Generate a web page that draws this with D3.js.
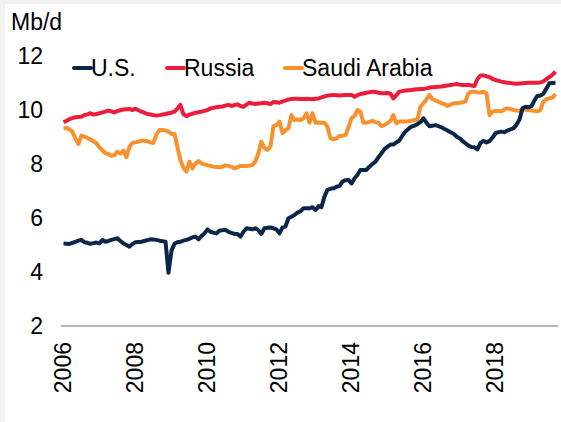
<!DOCTYPE html>
<html>
<head>
<meta charset="utf-8">
<script src="https://cdnjs.cloudflare.com/ajax/libs/d3/7.8.5/d3.min.js"></script>
<style>
  html, body { margin: 0; padding: 0; background: #f2f2f2; }
  svg { display: block; font-family: Arial, "Liberation Sans", sans-serif; }
</style>
</head>
<body>
<div id="chart"></div>
<script>
// monthly crude output, Mb/d, first month = Jan 2006
var startMonth = new Date(2006, 0, 1);

var usValues = [
  5.06, 5.05, 5.04, 5.08, 5.12, 5.16, 5.19, 5.10, 5.08, 5.04, 5.07, 5.09, 5.06, 5.19, 5.12, 5.15,
  5.19, 5.22, 5.25, 5.15, 5.06, 5.00, 4.94, 5.04, 5.10, 5.11, 5.12, 5.15, 5.18, 5.21, 5.20, 5.19,
  5.16, 5.14, 5.12, 3.97, 4.80, 5.05, 5.10, 5.12, 5.16, 5.19, 5.23, 5.28, 5.31, 5.21, 5.33, 5.43,
  5.58, 5.49, 5.46, 5.43, 5.53, 5.55, 5.56, 5.49, 5.45, 5.41, 5.41, 5.31, 5.49, 5.62, 5.60, 5.58,
  5.62, 5.55, 5.41, 5.62, 5.64, 5.65, 5.62, 5.58, 5.43, 5.65, 5.68, 5.99, 6.05, 6.11, 6.20, 6.25,
  6.36, 6.36, 6.36, 6.40, 6.30, 6.44, 6.40, 6.79, 7.04, 7.08, 7.10, 7.15, 7.19, 7.35, 7.40, 7.41,
  7.28, 7.47, 7.59, 7.78, 7.78, 7.78, 7.90, 8.00, 8.09, 8.25, 8.40, 8.55, 8.64, 8.72, 8.72, 8.80,
  8.87, 9.05, 9.20, 9.30, 9.38, 9.42, 9.48, 9.55, 9.69, 9.52, 9.40, 9.42, 9.44, 9.40, 9.36, 9.30,
  9.24, 9.18, 9.12, 9.02, 8.95, 8.85, 8.77, 8.68, 8.63, 8.62, 8.54, 8.78, 8.86, 8.80, 8.85, 8.98,
  9.14, 9.18, 9.20, 9.18, 9.24, 9.28, 9.32, 9.45, 9.65, 10.06, 10.12, 10.10, 10.14, 10.37, 10.52, 10.54,
  10.60, 10.80, 10.99, 11.00, 11.01
];

var russiaValues = [
  9.55, 9.60, 9.66, 9.70, 9.73, 9.74, 9.75, 9.81, 9.84, 9.88, 9.83, 9.85, 9.88, 9.91, 9.94, 9.98,
  9.95, 9.91, 9.96, 9.99, 10.02, 10.03, 10.04, 10.00, 10.05, 9.99, 9.94, 9.90, 9.85, 9.83, 9.81, 9.80,
  9.81, 9.83, 9.85, 9.88, 9.90, 9.94, 10.05, 10.19, 9.85, 9.77, 9.83, 9.86, 9.90, 9.92, 9.94, 9.97,
  10.00, 10.06, 10.08, 10.10, 10.12, 10.13, 10.16, 10.19, 10.15, 10.18, 10.21, 10.15, 10.12, 10.20, 10.27, 10.24,
  10.22, 10.24, 10.25, 10.27, 10.25, 10.22, 10.30, 10.29, 10.27, 10.32, 10.35, 10.39, 10.41, 10.42, 10.42, 10.41,
  10.41, 10.42, 10.41, 10.40, 10.42, 10.43, 10.47, 10.50, 10.53, 10.55, 10.56, 10.55, 10.54, 10.55, 10.56, 10.56,
  10.56, 10.49, 10.55, 10.59, 10.61, 10.64, 10.66, 10.68, 10.67, 10.64, 10.62, 10.62, 10.63, 10.60, 10.43, 10.55,
  10.68, 10.70, 10.72, 10.73, 10.74, 10.76, 10.77, 10.78, 10.78, 10.80, 10.83, 10.84, 10.85, 10.86, 10.87, 10.89,
  10.91, 10.93, 10.94, 10.96, 10.94, 10.93, 10.93, 10.93, 10.91, 10.89, 11.15, 11.28, 11.28, 11.25, 11.22, 11.15,
  11.11, 11.08, 11.05, 11.03, 11.01, 11.00, 10.98, 10.97, 10.98, 10.99, 11.00, 11.01, 11.01, 11.01, 11.01, 11.02,
  11.06, 11.15, 11.22, 11.30, 11.42
];

var saudiValues = [
  9.32, 9.34, 9.28, 9.20, 8.95, 8.74, 9.05, 9.02, 8.96, 8.91, 8.84, 8.77, 8.62, 8.50, 8.40, 8.37,
  8.30, 8.33, 8.46, 8.38, 8.50, 8.25, 8.64, 8.78, 8.80, 8.83, 8.86, 8.86, 8.84, 8.80, 8.78, 9.10,
  9.26, 9.26, 9.24, 9.20, 9.11, 9.11, 8.64, 8.15, 7.85, 7.72, 8.09, 7.84, 8.02, 8.11, 8.02, 7.98,
  7.96, 7.93, 7.90, 7.89, 7.88, 7.90, 7.95, 7.93, 7.90, 7.84, 7.88, 7.93, 7.93, 7.93, 7.94, 7.96,
  8.09, 8.40, 8.83, 8.60, 8.52, 8.64, 9.40, 9.44, 9.57, 9.14, 9.25, 9.32, 9.81, 9.63, 9.65, 9.63,
  9.69, 9.88, 9.53, 9.88, 9.53, 9.54, 9.53, 9.53, 9.38, 8.95, 8.91, 8.95, 9.04, 9.05, 9.07, 9.36,
  9.70, 9.78, 10.00, 9.94, 9.53, 9.53, 9.56, 9.60, 9.55, 9.53, 9.40, 9.45, 9.51, 9.60, 9.81, 9.51,
  9.57, 9.57, 9.57, 9.58, 9.60, 9.63, 9.65, 10.12, 10.25, 10.40, 10.56, 10.40, 10.35, 10.31, 10.25, 10.22,
  10.15, 10.20, 10.25, 10.25, 10.27, 10.29, 10.31, 10.62, 10.68, 10.68, 10.66, 10.65, 10.68, 10.62, 9.81, 9.94,
  9.96, 9.96, 9.95, 10.02, 10.06, 10.03, 10.00, 9.98, 9.97, 10.03, 10.01, 10.00, 9.98, 9.97, 9.95, 10.00,
  10.31, 10.40, 10.43, 10.46, 10.59
];

var seriesNames = ["U.S.", "Russia", "Saudi Arabia"];
var seriesColors = ["#0a2749", "#ec1d3b", "#f7922e"];
var yTicks = [2, 4, 6, 8, 10, 12];
var xTickYears = [2006, 2008, 2010, 2012, 2014, 2016, 2018];
var unitLabel = "Mb/d";

var width = 561, height = 422;

var svg = d3.select("#chart").append("svg")
  .attr("width", width)
  .attr("height", height);

// white panel inside thin grey frame
svg.append("rect")
  .attr("x", 5).attr("y", 4)
  .attr("width", width - 5).attr("height", height - 4)
  .attr("fill", "#ffffff");

function monthDate(i) {
  return new Date(2006, i, 1);
}

var lastIndex = usValues.length - 1;

var x = d3.scaleTime()
  .domain([startMonth, monthDate(lastIndex)])
  .range([63.5, 555.5]);

var y = d3.scaleLinear()
  .domain([2, 12])
  .range([326, 56]);

// y tick labels, no axis line
svg.append("g")
  .selectAll("text")
  .data(yTicks)
  .enter()
  .append("text")
    .attr("x", 43)
    .attr("y", function(d) { return y(d); })
    .attr("dy", "0.36em")
    .attr("text-anchor", "end")
    .attr("font-size", 23)
    .attr("fill", "#000")
    .text(function(d) { return d; });

// bottom axis line
svg.append("line")
  .attr("x1", 61).attr("x2", 558)
  .attr("y1", y(2)).attr("y2", y(2))
  .attr("stroke", "#6e6e6e")
  .attr("stroke-width", 1.2);

// rotated year labels
svg.append("g")
  .selectAll("text")
  .data(xTickYears)
  .enter()
  .append("text")
    .attr("transform", function(d) {
      return "translate(" + (x(new Date(d, 0, 1)) - 1) + ",342) rotate(-90)";
    })
    .attr("dy", "0.36em")
    .attr("text-anchor", "end")
    .attr("font-size", 23)
    .attr("fill", "#000")
    .text(function(d) { return d; });

svg.append("text")
  .attr("x", 11).attr("y", 30)
  .attr("font-size", 23)
  .attr("fill", "#000")
  .text(unitLabel);

// lines
var allSeries = [usValues, russiaValues, saudiValues];
var line = d3.line()
  .x(function(d, i) { return x(monthDate(i)); })
  .y(function(d) { return y(d); });

// draw order: saudi, russia, then us on top
[2, 1, 0].forEach(function(k) {
  svg.append("path")
    .datum(allSeries[k])
    .attr("d", line)
    .attr("fill", "none")
    .attr("stroke", seriesColors[k])
    .attr("stroke-width", 4)
    .attr("stroke-linejoin", "round");
});

// legend
var legendX = [74, 167, 285];
var legend = svg.append("g")
  .selectAll("g")
  .data(seriesNames)
  .enter()
  .append("g")
    .attr("transform", function(d, i) { return "translate(" + legendX[i] + ",68)"; });

legend.append("line")
  .attr("x1", 0).attr("x2", 17)
  .attr("y1", 0).attr("y2", 0)
  .attr("stroke", function(d, i) { return seriesColors[i]; })
  .attr("stroke-width", 4)
  .attr("stroke-linecap", "round");

legend.append("text")
  .attr("x", 17)
  .attr("y", 8)
  .attr("font-size", 23)
  .attr("fill", "#000")
  .text(function(d) { return d; });
</script>
</body>
</html>
